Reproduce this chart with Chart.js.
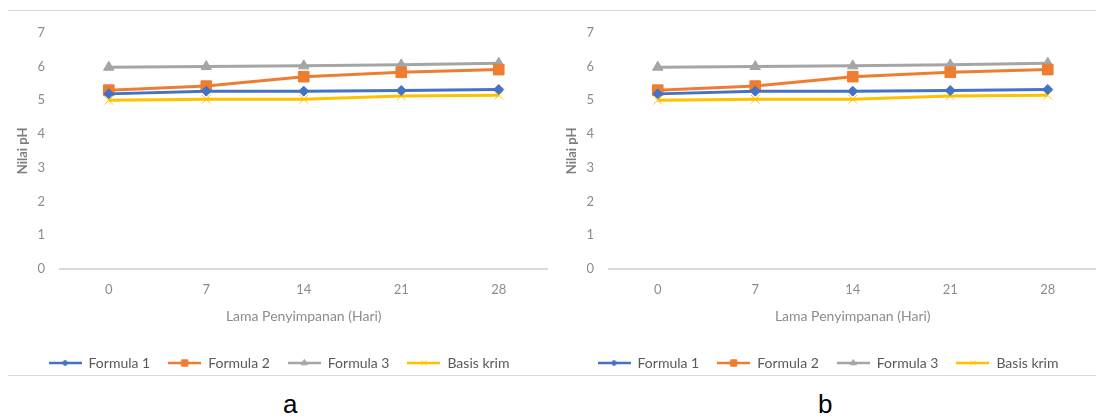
<!DOCTYPE html>
<html>
<head>
<meta charset="utf-8">
<script src="https://cdn.jsdelivr.net/npm/chart.js@4"></script>
<style>
  html, body { margin: 0; padding: 0; background: #fff; }
  body { width: 1096px; height: 419px; overflow: hidden; position: relative; }
  .frame { position: absolute; left: 8px; top: 10px; width: 1088px; height: 364px;
           border-top: 1px solid #d9d9d9; border-bottom: 1px solid #d9d9d9; }
  .box { position: absolute; top: 10px; width: 548px; height: 365px; }
  .tag { position: absolute; top: 389px; font: 26px "Liberation Sans", Arial, sans-serif; color: #000; }
</style>
</head>
<body>
<div class="frame"></div>
<div class="box" style="left:8px"><canvas id="chartA"></canvas></div>
<div class="box" style="left:557px"><canvas id="chartB"></canvas></div>
<div class="tag" style="left:283px">a</div>
<div class="tag" style="left:818px">b</div>

<script>
// storage days
const days = ['0', '7', '14', '21', '28'];

// pH values (both panels look the same)
const formula1 = [5.19, 5.27, 5.27, 5.29, 5.32];
const formula2 = [5.30, 5.42, 5.70, 5.83, 5.91];
const formula3 = [5.98, 6.00, 6.02, 6.05, 6.10];
const basisKrim = [5.00, 5.03, 5.03, 5.13, 5.15];

const yTicks = [0, 1, 2, 3, 4, 5, 6, 7];

const seriesNames = ['Formula 1', 'Formula 2', 'Formula 3', 'Basis krim'];
const seriesColors = ['#4472C4', '#ED7D31', '#A5A5A5', '#FFC000'];
const seriesMarkers = ['rectRot', 'rect', 'triangle', 'crossRot'];
const markerSizes = [5, 7.5, 6, 6];

const FONT = 'Lato, "Open Sans", sans-serif';

// little line + marker icons for the legend (excel style)
function legendIcon(i) {
    const c = document.createElement('canvas');
    c.width = 33; c.height = 12;
    const ctx = c.getContext('2d');
    ctx.strokeStyle = seriesColors[i];
    ctx.lineWidth = 2.5;
    ctx.beginPath();
    ctx.moveTo(0, 6); ctx.lineTo(33, 6);
    ctx.stroke();
    ctx.fillStyle = seriesColors[i];
    ctx.lineWidth = 1;
    Chart.helpers.drawPoint(ctx, { pointStyle: seriesMarkers[i], radius: markerSizes[i] * 0.6, rotation: 0, borderWidth: 1 }, 16.5, 6);
    return c;
}

// push the legend a bit lower, like in the picture
const legendShift = {
    id: 'legendShift',
    afterLayout(chart) {
        chart.legend.top += 9;
        chart.legend.bottom += 9;
    }
};

function makeChart(id) {
    const data = [formula1, formula2, formula3, basisKrim];
    const icons = seriesNames.map((_, i) => legendIcon(i));

    return new Chart(document.getElementById(id), {
        type: 'line',
        data: {
            labels: days,
            datasets: data.map((vals, i) => ({
                label: seriesNames[i],
                data: vals,
                borderColor: seriesColors[i],
                backgroundColor: seriesColors[i],
                borderWidth: 3,
                pointStyle: seriesMarkers[i],
                pointRadius: markerSizes[i],
                pointBorderWidth: 1,
                pointBorderColor: seriesColors[i],
                pointBackgroundColor: seriesColors[i],
                tension: 0
            }))
        },
        plugins: [legendShift],
        options: {
            responsive: true,
            maintainAspectRatio: false,
            animation: false,
            layout: { padding: { top: 15, left: 0, right: 6, bottom: 4 } },
            plugins: {
                tooltip: { enabled: false },
                legend: {
                    position: 'bottom',
                    labels: {
                        usePointStyle: true,
                        pointStyleWidth: 33,
                        padding: 18,
                        color: '#595959',
                        font: { family: FONT, size: 14 },
                        generateLabels: chart =>
                            Chart.defaults.plugins.legend.labels.generateLabels(chart)
                                .map((l, i) => ({ ...l, pointStyle: icons[i] }))
                    }
                }
            },
            scales: {
                x: {
                    offset: true,
                    grid: { display: false, drawTicks: false },
                    border: { display: true, color: '#d9d9d9', width: 2 },
                    ticks: { color: '#8c8c8c', font: { family: FONT, size: 13 }, padding: 13 },
                    title: {
                        display: true,
                        text: 'Lama Penyimpanan (Hari)',
                        color: '#8c8c8c',
                        font: { family: FONT, size: 14 },
                        padding: { top: 6, bottom: 4 }
                    },
                    afterFit: s => { s.height = 60; }
                },
                y: {
                    min: 0,
                    max: 7,
                    afterBuildTicks: s => { s.ticks = yTicks.map(v => ({ value: v })); },
                    grid: { display: false, drawTicks: false },
                    border: { display: false },
                    ticks: { color: '#8c8c8c', font: { family: FONT, size: 13 }, padding: 15 },
                    title: {
                        display: true,
                        text: 'Nilai pH',
                        color: '#7f7f7f',
                        font: { family: FONT, size: 13, weight: 'bold' },
                        padding: { top: 7, bottom: 0 }
                    },
                    afterFit: s => { s.width = 52; }
                }
            }
        }
    });
}

makeChart('chartA');
makeChart('chartB');
</script>
</body>
</html>
